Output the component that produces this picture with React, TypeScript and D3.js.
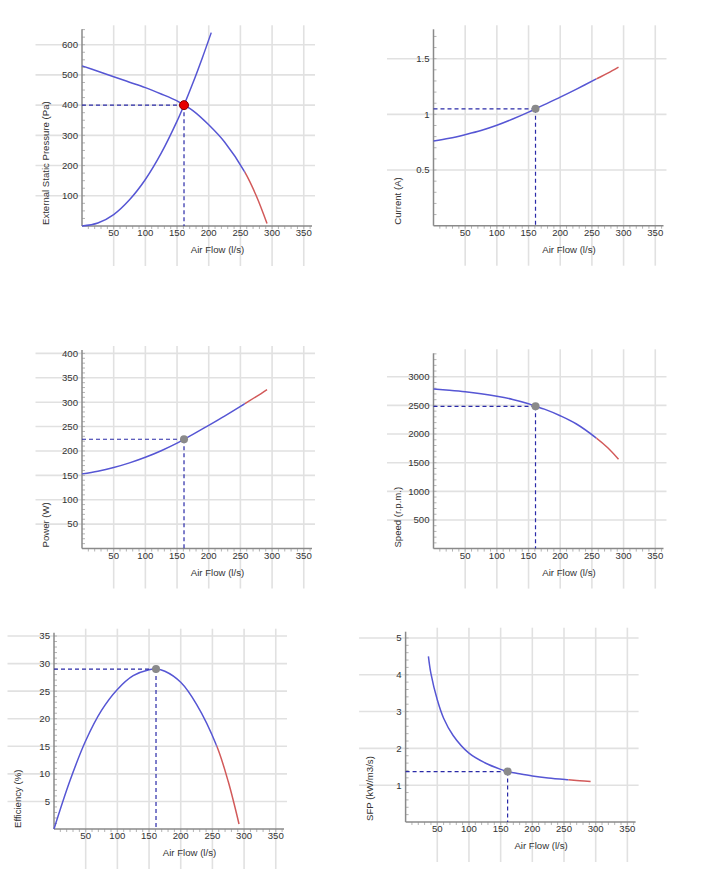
import * as d3 from "d3"

// flow points (l/s) shared by the fan curves
const FLOW = [0, 25, 50, 75, 100, 125, 150, 161, 175, 200, 225, 257, 275, 292]
const PRESSURE = [530, 512, 494, 476, 458, 437, 414, 400, 382, 335, 278, 178, 100, 8]
const CURRENT = [0.76, 0.785, 0.818, 0.855, 0.902, 0.958, 1.02, 1.05, 1.088, 1.155, 1.225, 1.318, 1.37, 1.425]
const POWER = [153, 158.5, 166, 175.5, 187, 200.5, 216, 224, 234, 252.5, 271.5, 297, 311.5, 326]
const SPEED = [2785, 2763, 2737, 2703, 2660, 2605, 2530, 2485, 2435, 2320, 2180, 1930, 1760, 1560]
const EFFICIENCY = [0, 8.7, 16, 21.5, 25.3, 27.8, 28.9, 29, 28.6, 26.6, 22.6, 15, 8.6, 0.9]

// system resistance curve
const SYSTEM_FLOW = [0, 25, 50, 75, 100, 125, 150, 161, 175, 190, 204]
const SYSTEM_PRESSURE = [0, 10, 38, 87, 154, 241, 347, 400, 473, 557, 640]

// specific fan power
const SFP_FLOW = [36, 40, 50, 60, 75, 100, 125, 150, 161, 175, 200, 225, 257, 275, 292]
const SFP = [4.5, 4.03, 3.32, 2.82, 2.35, 1.87, 1.61, 1.43, 1.37, 1.325, 1.25, 1.195, 1.145, 1.12, 1.1]

const DUTY_FLOW = 161
const OVERLOAD_FROM = 257

const X_TICKS = [50, 100, 150, 200, 250, 300, 350]
const PRESSURE_TICKS = [100, 200, 300, 400, 500, 600]
const CURRENT_TICKS = [0.5, 1, 1.5]
const POWER_TICKS = [50, 100, 150, 200, 250, 300, 350, 400]
const SPEED_TICKS = [500, 1000, 1500, 2000, 2500, 3000]
const EFFICIENCY_TICKS = [5, 10, 15, 20, 25, 30, 35]
const SFP_TICKS = [1, 2, 3, 4, 5]

const BLUE = "#5656d4"
const RED = "#d25a5a"
const DASH = "#2a2aa8"
const GRID = "#e1e1e1"
const AXIS = "#8a8a8a"
const FONT = "Arial, 'Liberation Sans', sans-serif"

const AXIS_W = 230
const X_MAX = 363

type Panel = {
  left: number
  bottom: number
  top: number
  yMax: number
  yTicks: number[]
  yMinor: number
  title: string
  flow: number[]
  values: number[]
  duty: "red" | "grey"
  system?: boolean
}

const panels: Panel[] = [
  { left: 82, bottom: 226, top: 29.3, yMax: 651, yTicks: PRESSURE_TICKS, yMinor: 25, title: "External Static Pressure (Pa)", flow: FLOW, values: PRESSURE, duty: "red", system: true },
  { left: 433.5, bottom: 225.7, top: 29.3, yMax: 1.764, yTicks: CURRENT_TICKS, yMinor: 0.1, title: "Current (A)", flow: FLOW, values: CURRENT, duty: "grey" },
  { left: 82, bottom: 548.5, top: 350, yMax: 407, yTicks: POWER_TICKS, yMinor: 10, title: "Power (W)", flow: FLOW, values: POWER, duty: "grey" },
  { left: 433.5, bottom: 548.6, top: 353.3, yMax: 3410, yTicks: SPEED_TICKS, yMinor: 100, title: "Speed (r.p.m.)", flow: FLOW, values: SPEED, duty: "grey" },
  { left: 54, bottom: 829, top: 632.7, yMax: 35.6, yTicks: EFFICIENCY_TICKS, yMinor: 1, title: "Efficiency (%)", flow: FLOW, values: EFFICIENCY, duty: "grey" },
  { left: 405.6, bottom: 822, top: 631.7, yMax: 5.17, yTicks: SFP_TICKS, yMinor: 0.2, title: "SFP (kW/m3/s)", flow: SFP_FLOW, values: SFP, duty: "grey" },
]

function steps(step: number, max: number) {
  const n = Math.floor(max / step + 1e-6)
  return d3.range(1, n + 1).map((i) => +(i * step).toFixed(4))
}

function FanChart({ p, id }: { p: Panel; id: number }) {
  const x = d3.scaleLinear().domain([0, X_MAX]).range([p.left, p.left + AXIS_W])
  const y = d3.scaleLinear().domain([0, p.yMax]).range([p.bottom, p.top])

  const line = d3
    .line<[number, number]>()
    .x((d) => x(d[0]))
    .y((d) => y(d[1]))
    .curve(d3.curveCatmullRom.alpha(0.5))

  const pts = p.flow.map((f, i) => [f, p.values[i]] as [number, number])
  const dutyValue = p.values[p.flow.indexOf(DUTY_FLOW)]
  const split = x(OVERLOAD_FROM)

  const gridLeft = p.left - 46.5
  const gridRight = p.left + AXIS_W + 3
  const gridTop = p.top - 4
  const gridBottom = p.bottom + 40

  return (
    <g>
      <defs>
        <clipPath id={`normal-${id}`}>
          <rect x={p.left - 5} y={p.top - 20} width={split - p.left + 5} height={p.bottom - p.top + 40} />
        </clipPath>
        <clipPath id={`over-${id}`}>
          <rect x={split} y={p.top - 20} width={AXIS_W} height={p.bottom - p.top + 40} />
        </clipPath>
      </defs>

      {X_TICKS.map((t) => (
        <line key={"gx" + t} x1={x(t)} x2={x(t)} y1={gridTop} y2={gridBottom} stroke={GRID} strokeWidth={1.6} />
      ))}
      {p.yTicks.map((t) => (
        <line key={"gy" + t} x1={gridLeft} x2={gridRight} y1={y(t)} y2={y(t)} stroke={GRID} strokeWidth={1.6} />
      ))}

      {/* minor ticks */}
      {steps(10, X_MAX).map((t) => (
        <line key={"mx" + t} x1={x(t)} x2={x(t)} y1={p.bottom} y2={p.bottom + 3} stroke="#b4b4b4" strokeWidth={1} />
      ))}
      {steps(p.yMinor, p.yMax).map((t) => (
        <line key={"my" + t} x1={p.left} x2={p.left + 3} y1={y(t)} y2={y(t)} stroke="#b4b4b4" strokeWidth={1} />
      ))}

      <line x1={p.left} x2={p.left} y1={p.top} y2={p.bottom} stroke={AXIS} strokeWidth={1.5} />
      <line x1={p.left} x2={p.left + AXIS_W} y1={p.bottom} y2={p.bottom} stroke={AXIS} strokeWidth={1.5} />

      {X_TICKS.map((t) => (
        <text key={"lx" + t} x={x(t)} y={p.bottom + 10} textAnchor="middle" fontSize={9.6} fill="#333">
          {t}
        </text>
      ))}
      {p.yTicks.map((t) => (
        <text key={"ly" + t} x={p.left - 4} y={y(t)} dy="0.35em" textAnchor="end" fontSize={9.6} fill="#333">
          {t}
        </text>
      ))}

      <text x={p.left + 135.5} y={p.bottom + 27} textAnchor="middle" fontSize={9.6} fill="#333">
        Air Flow (l/s)
      </text>
      <text
        transform={`translate(${p.left - 33},${p.bottom - 1}) rotate(-90)`}
        textAnchor="start"
        fontSize={9.6}
        fill="#333"
      >
        {p.title}
      </text>

      {p.system && (
        <path
          d={line(SYSTEM_FLOW.map((f, i) => [f, SYSTEM_PRESSURE[i]] as [number, number])) ?? ""}
          fill="none"
          stroke={BLUE}
          strokeWidth={1.5}
        />
      )}
      <path d={line(pts) ?? ""} fill="none" stroke={BLUE} strokeWidth={1.5} clipPath={`url(#normal-${id})`} />
      <path d={line(pts) ?? ""} fill="none" stroke={RED} strokeWidth={1.5} clipPath={`url(#over-${id})`} />

      <line x1={p.left} x2={x(DUTY_FLOW)} y1={y(dutyValue)} y2={y(dutyValue)} stroke={DASH} strokeWidth={1.2} strokeDasharray="4,3" />
      <line x1={x(DUTY_FLOW)} x2={x(DUTY_FLOW)} y1={y(dutyValue)} y2={p.bottom} stroke={DASH} strokeWidth={1.2} strokeDasharray="4,3" />

      {p.duty === "red" ? (
        <circle cx={x(DUTY_FLOW)} cy={y(dutyValue)} r={4.5} fill="#e80000" stroke="#8a0000" strokeWidth={1} />
      ) : (
        <circle cx={x(DUTY_FLOW)} cy={y(dutyValue)} r={4} fill="#8a8a8a" />
      )}
    </g>
  )
}

export default function App() {
  return (
    <svg
      width={706}
      height={888}
      style={{ position: "absolute", left: 0, top: 0, background: "#fff", fontFamily: FONT }}
    >
      <rect width={706} height={888} fill="#fff" />
      {panels.map((p, i) => (
        <FanChart key={i} p={p} id={i} />
      ))}
    </svg>
  )
}
